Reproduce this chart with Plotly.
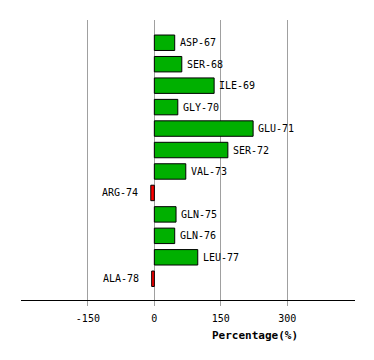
import plotly.graph_objects as go

residues = ["ASP-67", "SER-68", "ILE-69", "GLY-70", "GLU-71", "SER-72",
            "VAL-73", "ARG-74", "GLN-75", "GLN-76", "LEU-77", "ALA-78"]
values = [46, 62, 135, 53, 223, 166, 71, -8, 49, 46, 98, -6]
tick_vals = [-150, 0, 150, 300]
tick_text = ["-150", "0", "150", "300"]

colors = ["#00B000" if v >= 0 else "#FF0000" for v in values]
FONT = "DejaVu Sans Mono"

fig = go.Figure(go.Bar(
    x=values, y=residues, orientation="h",
    marker=dict(color=colors, line=dict(color="black", width=1)),
    width=0.72, hoverinfo="skip",
))

for r, v in zip(residues, values):
    fig.add_annotation(
        x=v, y=r, text=r, showarrow=False,
        xanchor="left" if v >= 0 else "right",
        xshift=3 if v >= 0 else -11,
        font=dict(family=FONT, size=10, color="black"),
    )

fig.add_annotation(
    x=0.7, y=-0.125, xref="paper", yref="paper", text="<b>Percentage(%)</b>",
    showarrow=False, xanchor="center", yanchor="middle",
    font=dict(family=FONT, size=11, color="black"),
)

fig.update_layout(
    width=366, height=352,
    margin=dict(l=13, r=19, t=12, b=60),
    plot_bgcolor="white", paper_bgcolor="white",
    showlegend=False,
    xaxis=dict(
        range=[-301, 453], tickvals=tick_vals, ticktext=tick_text,
        showgrid=True, gridcolor="#A0A0A0", gridwidth=1,
        zeroline=False, showline=True, linecolor="black", linewidth=1,
        ticks="outside", ticklen=5, tickcolor="#A0A0A0",
        ticklabelstandoff=4,
        tickfont=dict(family=FONT, size=10, color="black"),
    ),
    yaxis=dict(
        type="category", categoryarray=residues, range=[11.99, -1.06],
        showticklabels=False, showgrid=False, zeroline=False, showline=False,
        ticks="",
    ),
)

fig.write_html("out.html")
